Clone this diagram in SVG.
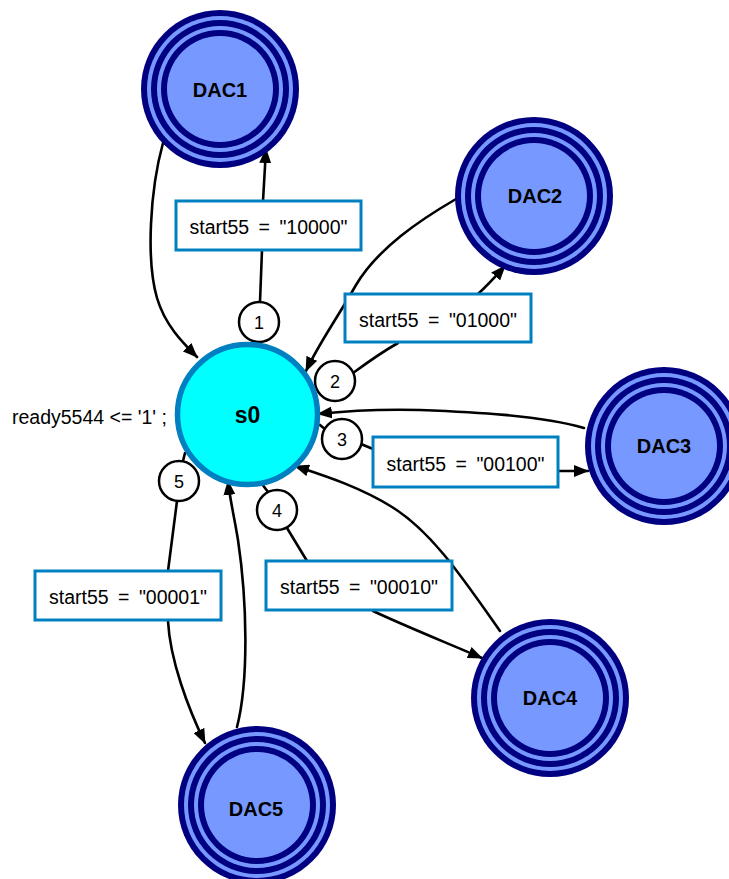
<svg xmlns="http://www.w3.org/2000/svg" width="729" height="879" viewBox="0 0 729 879">
  <style>
    .dark { fill: #000080; }
    .light { fill: #7799ff; }
    .state-label { font-family: "Liberation Sans", Arial, sans-serif; font-weight: bold; font-size: 20px; text-anchor: middle; fill: #000; }
    .init { fill: #00ffff; stroke: #0080c0; stroke-width: 5.5; }
    .init-label { font-family: "Liberation Sans", Arial, sans-serif; font-weight: bold; font-size: 23px; text-anchor: middle; fill: #000; }
    .action { font-family: "Liberation Sans", Arial, sans-serif; font-size: 19.5px; fill: #000; }
    .edge { fill: none; stroke: #000; stroke-width: 2.6; stroke-linejoin: round; stroke-linecap: round; }
    .arrow { marker-end: url(#head); }
    .num { fill: #fff; stroke: #000; stroke-width: 2.5; }
    .num-text { font-family: "Liberation Sans", Arial, sans-serif; font-size: 18px; text-anchor: middle; fill: #000; }
    .cond { fill: #fff; stroke: #0080c0; stroke-width: 3; }
    .cond-text { font-family: "Liberation Sans", Arial, sans-serif; font-size: 19.5px; word-spacing: 4px; text-anchor: middle; fill: #000; }
  </style>
  <defs>
    <marker id="head" markerUnits="userSpaceOnUse" markerWidth="15" markerHeight="12" refX="14" refY="6" orient="auto">
      <path d="M0,0 L15,6 L0,12 z" fill="#000"/>
    </marker>
    <!-- final state: three dark rings on a light blue disc -->
    <g id="final">
      <circle r="79" class="dark"/>
      <circle r="73" class="light"/>
      <circle r="69" class="dark"/>
      <circle r="63" class="light"/>
      <circle r="59" class="dark"/>
      <circle r="53" class="light"/>
    </g>
  </defs>

  <rect width="729" height="879" fill="#fff"/>

  <!-- transitions -->
  <g id="connectors">
    <!-- s0 -> DAC1 -->
    <path class="edge" d="M260,302 L262,250"/>
    <path class="edge arrow" d="M263,201 L266,149"/>
    <!-- DAC1 -> s0 -->
    <path class="edge arrow" d="M163,143 C150,190 146,260 157,298 C165,325 182,342 197,357"/>
    <!-- s0 -> DAC2 -->
    <path class="edge" d="M353,373 C368,362 382,352 398,343"/>
    <path class="edge arrow" d="M478,294 C488,285 496,276 505,266"/>
    <!-- DAC2 -> s0 -->
    <path class="edge arrow" d="M456,199 C420,220 378,248 356,285 C336,320 318,345 306,371"/>
    <!-- s0 -> DAC3 -->
    <path class="edge" d="M320,425 L326,430"/>
    <path class="edge" d="M361,444 L373,449"/>
    <path class="edge arrow" d="M558,471 L588,471"/>
    <!-- DAC3 -> s0 -->
    <path class="edge arrow" d="M584,428 C540,415 470,412 420,410 C380,409 345,411 318,414"/>
    <!-- s0 -> DAC4 -->
    <path class="edge" d="M262,484 L268,492"/>
    <path class="edge" d="M287,528 L307,561"/>
    <path class="edge arrow" d="M373,611 C405,626 440,640 482,658"/>
    <!-- DAC4 -> s0 -->
    <path class="edge arrow" d="M500,631 C462,577 432,532 392,507 C358,486 322,475 295,466"/>
    <!-- s0 -> DAC5 -->
    <path class="edge" d="M185,453 L183,461"/>
    <path class="edge" d="M177,501 L168,571"/>
    <path class="edge arrow" d="M168,621 C170,660 188,708 205,743"/>
    <!-- DAC5 -> s0 -->
    <path class="edge arrow" d="M237,727 C249,680 247,600 238,540 C234,515 230,500 228,481"/>
  </g>

  <!-- transition numbers -->
  <g id="n1"><circle class="num" cx="259" cy="322" r="20"/><text class="num-text" x="259" y="328.5">1</text></g>
  <g id="n2"><circle class="num" cx="335" cy="381" r="20"/><text class="num-text" x="335" y="387.5">2</text></g>
  <g id="n3"><circle class="num" cx="342" cy="439" r="20"/><text class="num-text" x="342" y="445.5">3</text></g>
  <g id="n4"><circle class="num" cx="277" cy="510" r="20"/><text class="num-text" x="277" y="516.5">4</text></g>
  <g id="n5"><circle class="num" cx="179" cy="481" r="20"/><text class="num-text" x="179" y="487.5">5</text></g>

  <!-- transition conditions -->
  <g id="c1"><rect class="cond" x="176" y="201" width="185" height="49"/><text class="cond-text" x="268.5" y="234">start55 = "10000"</text></g>
  <g id="c2"><rect class="cond" x="345" y="294" width="186" height="48"/><text class="cond-text" x="438" y="327">start55 = "01000"</text></g>
  <g id="c3"><rect class="cond" x="373" y="437" width="185" height="50"/><text class="cond-text" x="465.5" y="471">start55 = "00100"</text></g>
  <g id="c4"><rect class="cond" x="266" y="561" width="186" height="49"/><text class="cond-text" x="359" y="594">start55 = "00010"</text></g>
  <g id="c5"><rect class="cond" x="35" y="571" width="186" height="49"/><text class="cond-text" x="128" y="604">start55 = "00001"</text></g>

  <!-- states -->
  <g id="s0">
    <text class="action" x="12" y="424">ready5544 &lt;= '1' ;</text>
    <circle class="init" cx="247.5" cy="414.5" r="70"/>
    <text class="init-label" x="247.5" y="423">s0</text>
  </g>
  <g id="DAC1"><use href="#final" x="220" y="89"/><text class="state-label" x="220" y="97">DAC1</text></g>
  <g id="DAC2"><use href="#final" x="534" y="196"/><text class="state-label" x="535" y="203">DAC2</text></g>
  <g id="DAC3"><use href="#final" x="664" y="446"/><text class="state-label" x="664" y="453">DAC3</text></g>
  <g id="DAC4"><use href="#final" x="550" y="698"/><text class="state-label" x="550" y="705">DAC4</text></g>
  <g id="DAC5"><use href="#final" x="257" y="805"/><text class="state-label" x="256" y="816">DAC5</text></g>
</svg>
